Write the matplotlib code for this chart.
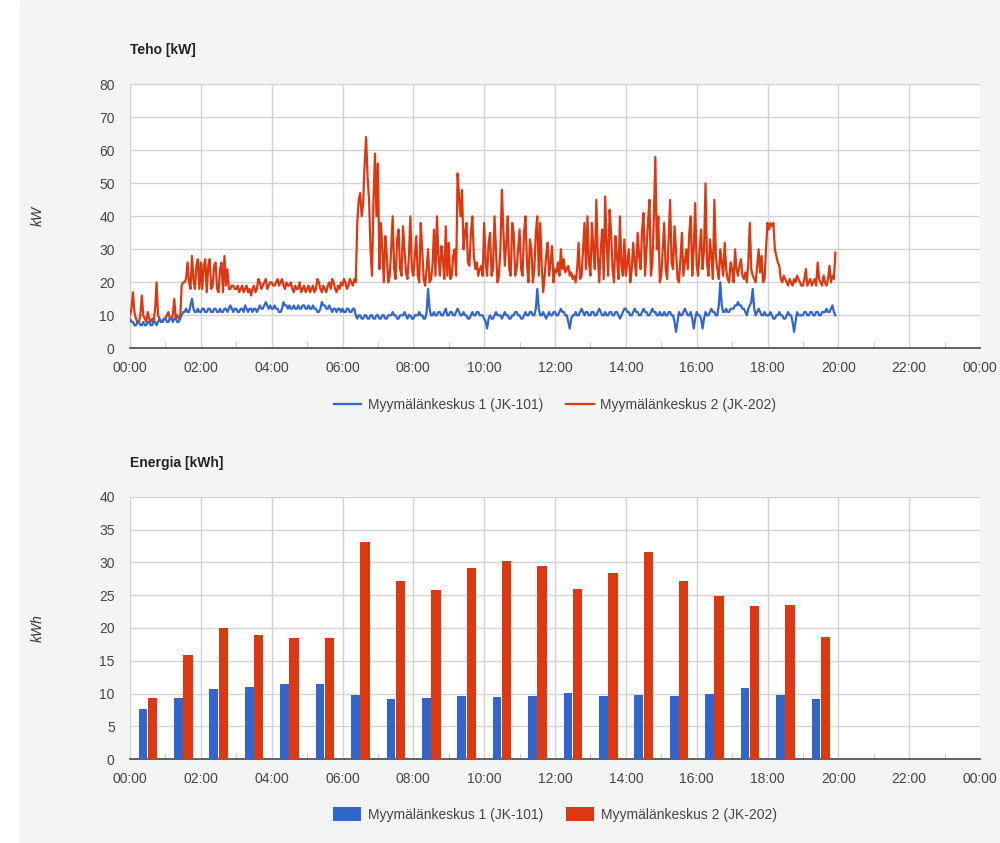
import numpy as np
import matplotlib
matplotlib.use('Agg')
import matplotlib.pyplot as plt
from matplotlib.patches import Rectangle

plt.rcParams['font.family'] = ['Liberation Sans', 'DejaVu Sans']

# power samples every 5 minutes from 00:00, one row per hour
teho_jk202 = [
    10, 17, 9, 8, 16, 9, 11, 8, 8, 20, 9, 8,
    9, 11, 9, 15, 10, 9, 20, 21, 20, 28, 18, 27,
    26, 25, 17, 27, 19, 26, 17, 26, 28, 24, 18, 19,
    18, 17, 19, 18, 17, 16, 19, 18, 20, 19, 21, 19,
    20, 19, 21, 20, 19, 20, 19, 18, 19, 18, 17, 19,
    18, 17, 19, 18, 20, 17, 18, 19, 18, 20, 17, 18,
    19, 20, 19, 20, 21, 38, 47, 44, 64, 45, 22, 59,
    56, 38, 20, 28, 22, 40, 21, 36, 22, 30, 21, 40,
    22, 34, 20, 30, 19, 30, 21, 36, 40, 22, 27, 37,
    32, 22, 30, 53, 40, 30, 38, 25, 40, 24, 22, 25,
    38, 22, 35, 24, 30, 22, 48, 25, 40, 22, 35, 24,
    36, 22, 40, 20, 30, 24, 40, 38, 17, 28, 22, 31,
    24, 26, 30, 27, 24, 22, 21, 20, 32, 22, 38, 40,
    22, 30, 45, 20, 36, 46, 22, 35, 20, 28, 40, 22,
    22, 30, 24, 26, 35, 24, 41, 30, 45, 26, 58, 40,
    22, 38, 21, 45, 24, 30, 20, 35, 26, 24, 40, 30,
    25, 30, 24, 50, 22, 28, 45, 24, 30, 22, 24, 20,
    24, 30, 22, 27, 21, 20, 38, 22, 20, 30, 28, 21,
    38, 38, 38, 28, 25, 20, 21, 19, 20, 21, 22, 20,
    19, 24, 20, 19, 21, 26, 20, 22, 19, 25, 22, 29,
]
# the samples in between (2.5 min later)
teho_jk202_v = [
    12, 11, 8, 10, 10, 8, 9, 9, 12, 10, 8, 9,
    10, 9, 10, 9, 9, 19, 20, 26, 18, 21, 25, 18,
    18, 27, 25, 18, 25, 18, 24, 17, 19, 18, 19, 18,
    19, 18, 17, 19, 18, 18, 17, 21, 18, 20, 18, 20,
    19, 20, 19, 21, 18, 19, 20, 17, 18, 20, 18, 17,
    19, 18, 17, 21, 18, 19, 17, 20, 21, 18, 19, 20,
    21, 18, 21, 19, 20, 45, 40, 56, 52, 30, 45, 40,
    24, 30, 34, 20, 30, 24, 33, 24, 37, 23, 28, 24,
    28, 22, 38, 21, 24, 20, 25, 22, 28, 31, 21, 22,
    21, 28, 22, 46, 48, 35, 26, 35, 28, 26, 24, 22,
    26, 32, 22, 40, 20, 30, 36, 32, 24, 38, 22, 30,
    24, 35, 26, 33, 20, 35, 22, 25, 22, 32, 26, 20,
    23, 22, 24, 23, 25, 23, 22, 24, 21, 30, 24, 26,
    38, 24, 28, 30, 21, 32, 42, 24, 34, 21, 25, 33,
    26, 20, 32, 22, 28, 36, 22, 38, 22, 40, 30, 20,
    30, 24, 33, 26, 37, 21, 27, 22, 30, 35, 22, 44,
    22, 36, 30, 26, 33, 21, 28, 21, 26, 32, 21, 26,
    20, 24, 25, 22, 23, 26, 24, 21, 25, 23, 20, 30,
    36, 37, 30, 26, 21, 22, 20, 21, 19, 20, 21, 19,
    21, 19, 21, 20, 19, 21, 19, 20, 21, 20, 21, 20,
]
teho_jk101 = [
    9, 8, 7, 8, 7, 7, 8, 7, 8, 7, 9, 8,
    9, 8, 9, 9, 8, 9, 11, 12, 11, 15, 11, 12,
    11, 12, 11, 12, 11, 12, 11, 11, 12, 11, 13, 11,
    12, 11, 12, 13, 11, 12, 12, 11, 13, 12, 14, 12,
    12, 13, 12, 11, 14, 13, 13, 12, 12, 13, 12, 13,
    12, 12, 13, 12, 11, 14, 13, 12, 12, 12, 11, 12,
    12, 11, 12, 11, 12, 9, 10, 9, 10, 9, 10, 9,
    10, 9, 10, 9, 10, 11, 10, 9, 10, 11, 9, 10,
    9, 10, 11, 10, 9, 18, 10, 11, 10, 11, 10, 12,
    10, 11, 10, 12, 10, 11, 10, 9, 11, 10, 11, 10,
    9, 6, 10, 9, 11, 10, 9, 11, 10, 9, 10, 11,
    10, 9, 11, 10, 11, 10, 18, 10, 11, 9, 11, 10,
    11, 10, 12, 11, 10, 6, 10, 11, 10, 12, 10, 11,
    10, 11, 10, 12, 10, 11, 10, 11, 10, 11, 9, 11,
    12, 11, 10, 12, 11, 10, 12, 11, 10, 12, 11, 10,
    10, 11, 10, 11, 10, 5, 11, 10, 12, 10, 11, 6,
    11, 10, 6, 11, 10, 12, 11, 10, 20, 11, 12, 11,
    12, 13, 14, 13, 12, 10, 13, 18, 10, 12, 10, 11,
    10, 11, 9, 10, 11, 10, 9, 11, 10, 5, 11, 10,
    10, 11, 10, 11, 10, 11, 10, 11, 12, 11, 13, 10,
]
teho_jk101_v = [
    8, 7, 8, 7, 8, 7, 8, 7, 8, 8, 8, 9,
    8, 9, 8, 9, 8, 10, 11, 11, 13, 12, 11, 11,
    12, 11, 12, 11, 12, 11, 12, 11, 12, 12, 12, 12,
    11, 12, 11, 12, 12, 11, 12, 12, 12, 13, 13, 13,
    12, 12, 11, 12, 13, 12, 12, 13, 12, 12, 13, 12,
    13, 12, 12, 11, 12, 13, 12, 13, 11, 12, 12, 11,
    11, 12, 11, 12, 10, 10, 9, 10, 9, 10, 9, 10,
    9, 10, 9, 10, 10, 10, 9, 10, 10, 10, 10, 9,
    10, 10, 10, 9, 11, 12, 10, 10, 11, 10, 11, 10,
    11, 10, 11, 11, 10, 10, 9, 10, 10, 11, 10, 10,
    8, 9, 9, 10, 10, 10, 10, 10, 9, 10, 11, 10,
    9, 10, 10, 11, 10, 12, 12, 10, 10, 10, 10, 11,
    10, 11, 11, 10, 8, 9, 10, 10, 11, 11, 11, 10,
    11, 10, 11, 11, 10, 10, 11, 10, 11, 10, 10, 12,
    11, 10, 11, 11, 10, 11, 11, 10, 11, 11, 10, 11,
    10, 10, 11, 10, 8, 8, 10, 11, 11, 10, 9, 9,
    10, 9, 9, 10, 11, 11, 10, 13, 13, 11, 11, 12,
    12, 13, 13, 12, 11, 12, 14, 12, 11, 11, 10, 10,
    10, 10, 9, 10, 10, 9, 10, 10, 8, 8, 10, 10,
    11, 10, 11, 10, 11, 10, 11, 11, 11, 12, 11, 11,
]

# hourly energy
tunnit = list(range(20))
energia_jk101 = [7.6, 9.4, 10.7, 11.0, 11.5, 11.5, 9.8, 9.2, 9.4, 9.7,
                 9.5, 9.7, 10.1, 9.7, 9.8, 9.7, 10.0, 10.8, 9.8, 9.2]
energia_jk202 = [9.4, 15.9, 20.0, 19.0, 18.4, 18.4, 33.1, 27.1, 25.8, 29.2,
                 30.2, 29.4, 25.9, 28.4, 31.6, 27.2, 24.9, 23.3, 23.5, 18.7]

nimet = ['Myymälänkeskus 1 (JK-101)', 'Myymälänkeskus 2 (JK-202)']
sininen = '#3366cc'
punainen = '#dc3912'
tekstivari = '#444444'


def lomita(a, b):
    # a and b alternate, last in-between sample dropped
    return np.column_stack((a, b)).ravel()[:-1]


def muotoile(ax, ymax, ystep, otsikko, yksikko):
    ax.set_facecolor('white')
    ax.set_xlim(0, 24)
    ax.set_ylim(0, ymax)
    ax.set_xticks(range(0, 25, 2))
    ax.set_xticklabels(['%02d:00' % (h % 24) for h in range(0, 25, 2)])
    ax.set_xticks(range(1, 24, 2), minor=True)
    ax.set_yticks(np.arange(0, ymax + 0.1, ystep))
    ax.set_yticklabels(['%d' % v for v in np.arange(0, ymax + 0.1, ystep)])
    for h in range(0, 24, 2):
        ax.axvline(h, color='#d2d2d2', lw=1, zorder=0)
    for v in np.arange(ystep, ymax + 0.1, ystep):
        ax.axhline(v, color='#d2d2d2', lw=1, zorder=0)
    for s in ['top', 'right', 'left']:
        ax.spines[s].set_visible(False)
    ax.spines['bottom'].set_color('#555555')
    ax.spines['bottom'].set_linewidth(1.3)
    ax.tick_params(axis='x', which='major', length=0, pad=9, labelsize=10, labelcolor=tekstivari)
    ax.tick_params(axis='x', which='minor', direction='in', length=4, color='#bbbbbb')
    ax.tick_params(axis='y', length=0, pad=11, labelsize=10, labelcolor=tekstivari)
    ax.text(0, 1.13, otsikko, transform=ax.transAxes, fontsize=10, fontweight='bold',
            color='#222222', va='center', ha='left')
    ax.text(-0.108, 0.5, yksikko, transform=ax.transAxes, fontsize=10, style='italic',
            color='#333333', rotation=90, va='center', ha='center')


fig = plt.figure(figsize=(10, 8.43), dpi=100, facecolor='#f3f4f4')
fig.patches.append(Rectangle((0, 0), 0.018, 1, transform=fig.transFigure,
                             color='white', zorder=0))

ax1 = fig.add_axes([0.13, 0.5868, 0.85, 0.3132])
sarja1 = lomita(teho_jk101, teho_jk101_v)
sarja2 = lomita(teho_jk202, teho_jk202_v)
aika = np.arange(len(sarja1)) * 2.5 / 60.0
ax1.plot(aika, sarja1, color=sininen, lw=1.6, label=nimet[0], zorder=3)
ax1.plot(aika, sarja2, color=punainen, lw=1.6, label=nimet[1], zorder=2)
muotoile(ax1, 80, 10, 'Teho [kW]', 'kW')
ax1.legend(loc='center', bbox_to_anchor=(0.5, -0.215), ncol=2, frameon=False,
           fontsize=10, labelcolor=tekstivari, handlelength=1.95, handletextpad=0.5,
           columnspacing=1.7)

ax2 = fig.add_axes([0.13, 0.0993, 0.85, 0.3115])
x = np.array(tunnit) + 0.5
ax2.bar(x - 0.135, energia_jk101, width=0.245, color=sininen, label=nimet[0], zorder=3)
ax2.bar(x + 0.135, energia_jk202, width=0.265, color=punainen, label=nimet[1], zorder=3)
muotoile(ax2, 40, 5, 'Energia [kWh]', 'kWh')
ax2.legend(loc='center', bbox_to_anchor=(0.5, -0.21), ncol=2, frameon=False,
           fontsize=10, labelcolor=tekstivari, handlelength=2.0, handleheight=1.15,
           handletextpad=0.5, columnspacing=1.7)

fig.savefig('out.png', dpi=100, facecolor=fig.get_facecolor())
